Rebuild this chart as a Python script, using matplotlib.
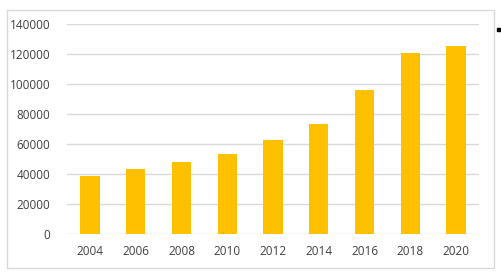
import matplotlib.pyplot as plt
from matplotlib.patches import Rectangle

years = ['2004', '2006', '2008', '2010', '2012', '2014', '2016', '2018', '2020']
values = [38900, 43500, 48200, 53500, 62900, 73500, 96200, 120900, 125500]
yticks = [0, 20000, 40000, 60000, 80000, 100000, 120000, 140000]

plt.rcParams['font.family'] = ['Open Sans', 'DejaVu Sans']

fig = plt.figure(figsize=(5.02, 2.75), dpi=100)
ax = fig.add_axes([67/502, 1 - 234.3/275, (479-67)/502, (234.3-24)/275])

x = list(range(len(years)))
ax.bar(x, values, width=0.42, color='#FFC000', zorder=2)
ax.set_xlim(-0.5, len(years) - 0.5)
ax.set_ylim(0, 140000)
ax.set_yticks(yticks)
ax.set_yticklabels([str(v) for v in yticks])
ax.set_xticks(x)
ax.set_xticklabels(years)
ax.grid(axis='y', color='#D9D9D9', linewidth=1, zorder=0)
for s in ax.spines.values():
    s.set_visible(False)
ax.tick_params(length=0, labelsize=8.5, colors='#404040')
ax.tick_params(axis='y', pad=12)
ax.tick_params(axis='x', pad=8)

# outer chart border
fig.patches.append(Rectangle((7/502, 1 - 268/275), (494-7)/502, (268-10)/275,
                             transform=fig.transFigure, fill=False,
                             edgecolor='#D9D9D9', linewidth=1))
# small black marker at right
fig.patches.append(Rectangle((497/502, 1 - 31/275), 3/502, 3/275,
                             transform=fig.transFigure, color='black'))

fig.savefig('out.png', dpi=100)
